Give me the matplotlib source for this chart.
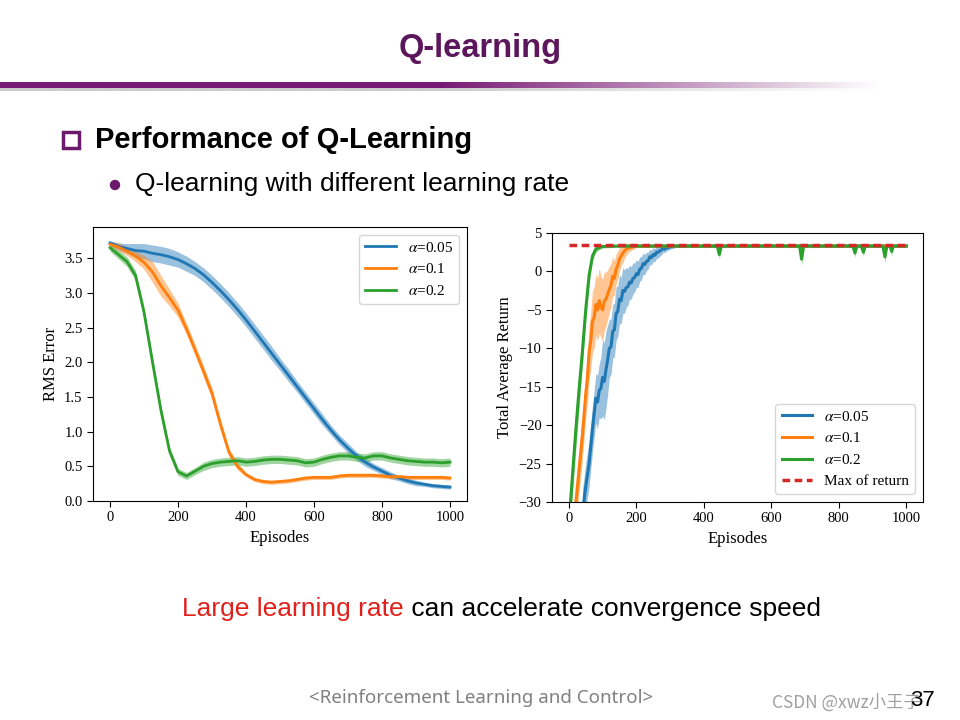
import matplotlib.pyplot as plt
import numpy as np
from matplotlib.patches import Rectangle, Circle

# --- données ---
labels = [r'$\alpha$=0.05', r'$\alpha$=0.1', r'$\alpha$=0.2']
couleurs = ['#1f77b4', '#ff7f0e', '#2ca02c']

# RMS error (épisodes tous les 25)
ep_rms = list(range(0, 1001, 25))
rms_005 = [3.72, 3.67, 3.64, 3.61, 3.60, 3.57, 3.55, 3.52, 3.48, 3.42, 3.35, 3.26, 3.15, 3.03,
           2.90, 2.76, 2.61, 2.45, 2.29, 2.13, 1.97, 1.81, 1.65, 1.49, 1.33, 1.17, 1.02, 0.88,
           0.76, 0.65, 0.56, 0.49, 0.43, 0.37, 0.33, 0.29, 0.26, 0.24, 0.22, 0.21, 0.20]
rms_01 = [3.70, 3.66, 3.60, 3.53, 3.44, 3.30, 3.10, 2.93, 2.75, 2.48, 2.18, 1.87, 1.55, 1.10,
          0.70, 0.50, 0.38, 0.31, 0.28, 0.27, 0.28, 0.29, 0.31, 0.33, 0.34, 0.34, 0.34, 0.36,
          0.37, 0.37, 0.37, 0.37, 0.36, 0.35, 0.35, 0.34, 0.34, 0.34, 0.34, 0.34, 0.33]
rms_02 = [3.65, 3.55, 3.45, 3.25, 2.72, 2.00, 1.30, 0.72, 0.42, 0.36, 0.43, 0.50, 0.54, 0.56,
          0.57, 0.58, 0.56, 0.57, 0.59, 0.60, 0.60, 0.59, 0.58, 0.55, 0.56, 0.60, 0.63, 0.65,
          0.65, 0.63, 0.62, 0.65, 0.65, 0.62, 0.60, 0.58, 0.57, 0.56, 0.56, 0.55, 0.56]
rms_sd_005 = [0.03, 0.05, 0.07, 0.10, 0.11, 0.12, 0.12, 0.12, 0.11, 0.11, 0.10, 0.10, 0.10, 0.10,
              0.10, 0.10, 0.10, 0.10, 0.10, 0.10, 0.09, 0.09, 0.08, 0.08, 0.08, 0.08, 0.07, 0.07,
              0.07, 0.06, 0.06, 0.05, 0.05, 0.05, 0.04, 0.04, 0.04, 0.03, 0.03, 0.03, 0.03]
rms_sd_01 = [0.03, 0.06, 0.06, 0.08, 0.10, 0.15, 0.15, 0.12, 0.10, 0.08, 0.08, 0.08, 0.08, 0.08,
             0.06, 0.05, 0.03, 0.03, 0.03, 0.03, 0.03, 0.03, 0.03, 0.03, 0.03, 0.03, 0.03, 0.03,
             0.03, 0.03, 0.03, 0.03, 0.03, 0.03, 0.03, 0.03, 0.03, 0.03, 0.03, 0.03, 0.03]
rms_sd_02 = [0.05, 0.06, 0.07, 0.07, 0.07, 0.07, 0.07, 0.06, 0.05, 0.05, 0.05, 0.06, 0.06, 0.06,
             0.06, 0.06, 0.06, 0.06, 0.06, 0.06, 0.06, 0.06, 0.06, 0.06, 0.06, 0.06, 0.06, 0.06,
             0.06, 0.06, 0.06, 0.06, 0.06, 0.06, 0.06, 0.06, 0.06, 0.06, 0.06, 0.06, 0.06]

# Total average return
ep_b = [40, 50, 60, 70,
        80, 85, 90, 95, 100, 105, 110, 115, 120, 125, 130, 135, 140, 145, 150, 155,
        160, 165, 170, 175, 180, 185, 190, 195, 200, 205, 210, 215, 220, 225, 230, 235,
        240, 245, 250, 255, 260, 265, 270, 275, 280, 285, 290, 295, 300,
        320, 400, 1000]
ret_005 = [-31.5, -28.0, -25.0, -20.5,
           -16.5, -17.0, -15.5, -15.2, -13.8, -14.3, -12.8, -11.5, -10.0, -9.8, -7.8, -7.6,
           -5.5, -5.2, -3.6, -3.8, -2.5, -2.6, -2.1, -2.0, -1.4, -1.5, -0.9, -0.8, -0.3, -0.4,
           0.3, 0.4, 1.0, 0.9, 1.3, 1.4, 1.9, 1.8, 2.2, 2.1, 2.5, 2.5, 2.7, 2.8, 3.0, 2.9,
           3.1, 3.1, 3.2,
           3.3, 3.3, 3.3]
ret_sd_005 = [3.0, 3.0, 3.0, 3.0,
              3.2, 3.5, 3.5, 4.0, 5.0, 5.0, 5.0, 4.5, 3.8, 3.6, 3.5, 3.5, 3.5, 3.3, 3.2, 3.0,
              3.0, 2.8, 2.6, 2.4, 2.2, 2.1, 2.0, 1.9, 1.8, 1.7, 1.6, 1.5, 1.4, 1.3, 1.2, 1.1,
              1.0, 0.95, 0.9, 0.85, 0.8, 0.75, 0.7, 0.6, 0.5, 0.45, 0.4, 0.35, 0.3,
              0.15, 0.1, 0.1]
ep_o = [10, 20, 30, 40, 50, 55, 60, 65, 70, 75, 80, 85, 90, 95, 100, 105, 110, 115, 120, 125,
        130, 135, 140, 145, 150, 155, 160, 170, 180, 200, 400, 1000]
ret_01 = [-35.0, -30.5, -26.0, -21.5, -16.0, -14.0, -10.5, -9.0, -6.5, -6.0, -4.3, -5.0, -3.8,
          -4.6, -5.0, -3.9, -3.6, -3.0, -2.3, -1.8, -0.6, -0.9, 0.3, 0.8, 1.6, 2.0, 2.4, 2.9,
          3.1, 3.3, 3.3, 3.3]
ret_sd_01 = [3.0, 3.0, 3.0, 3.0, 3.0, 3.2, 3.5, 3.8, 4.0, 4.0, 4.0, 4.0, 4.2, 4.0, 4.0, 3.8,
             3.5, 3.2, 3.0, 2.8, 2.5, 2.3, 2.0, 1.8, 1.5, 1.3, 1.2, 0.8, 0.5, 0.2, 0.1, 0.1]
ep_g = [0, 10, 20, 30, 40, 50, 60, 70, 80, 90, 100, 150, 440, 446, 452, 684, 690, 696, 842,
        848, 854, 867, 873, 879, 931, 937, 943, 952, 957, 962, 1000]
ret_02 = [-33.0, -27.0, -21.0, -15.5, -10.5, -5.0, -0.5, 2.0, 2.9, 3.1, 3.25, 3.3, 3.3, 2.2, 3.3,
          3.3, 1.6, 3.3, 3.3, 2.4, 3.3, 3.3, 2.5, 3.3, 3.3, 1.9, 3.3, 3.3, 2.6, 3.3, 3.3]
ret_sd_02 = [2.5, 2.5, 2.5, 2.5, 2.0, 1.5, 1.0, 0.6, 0.4, 0.3, 0.2, 0.15, 0.15, 0.6, 0.15, 0.15,
             0.9, 0.15, 0.15, 0.6, 0.15, 0.15, 0.6, 0.15, 0.15, 0.8, 0.15, 0.15, 0.6, 0.15, 0.15]
ep_max = [0, 1000]
ret_max = [3.4, 3.4]

plt.rcParams['mathtext.fontset'] = 'stix'

fig = plt.figure(figsize=(9.6, 7.2), dpi=100)

# fond de la diapo (coordonnées en pixels)
bg = fig.add_axes([0, 0, 1, 1])
bg.axis('off')

violet = '#6b1a6b'
bg.text(480, 48, 'Q-learning', ha='center', va='center', fontsize=23.5, fontweight='bold',
        color='#5c165c', family='Liberation Sans')

# barre en dégradé
grad = np.ones((1, 256, 4))
t = np.linspace(0, 1, 256)
fade = np.clip((t - 0.5) / 0.5, 0, 1)
c0 = np.array([0.47, 0.10, 0.45])
for k in range(3):
    grad[0, :, k] = c0[k] + (1 - c0[k]) * fade
bg.imshow(grad, extent=(0, 880, 88, 82), aspect='auto', interpolation='bilinear')
shadow = np.ones((1, 256, 4))
shadow[0, :, :3] = (0.80 + 0.2 * fade)[:, None]
bg.imshow(shadow, extent=(0, 880, 91, 88), aspect='auto', interpolation='bilinear')
bg.set_xlim(0, 960)
bg.set_ylim(720, 0)

bg.add_patch(Rectangle((63, 132), 16, 16, fill=False, edgecolor=violet, linewidth=2.5))
bg.text(95, 140, 'Performance of Q-Learning', ha='left', va='center', fontsize=21,
        fontweight='bold', family='Liberation Sans')
bg.add_patch(Circle((115, 185), 4.5, color=violet))
bg.text(135, 184, 'Q-learning with different learning rate', ha='left', va='center',
        fontsize=19, family='Liberation Sans')

rouge = bg.text(182, 609, 'Large learning rate', ha='left', va='center', fontsize=19,
                color='#e0201b', family='Liberation Sans')
bg.annotate(' can accelerate convergence speed', xy=(1, 0), xycoords=rouge, ha='left',
            va='bottom', fontsize=19, family='Liberation Sans')

bg.text(481, 698, '<Reinforcement Learning and Control>', ha='center', va='center',
        fontsize=13.5, color='#808080', family='Noto Sans')
bg.text(772, 703, 'CSDN @xwz小王子', ha='left', va='center', fontsize=12.5, color='#a0a0a0',
        family=['Noto Sans CJK SC', 'DejaVu Sans'])
bg.text(922, 700, '37', ha='center', va='center', fontsize=16, color='black',
        family='Liberation Sans')

serif = 'Liberation Serif'

# graphe de gauche : RMS Error
ax1 = fig.add_axes([0.0969, 0.3042, 0.3896, 0.3806])
for y, sd, c, lab in zip([rms_005, rms_01, rms_02], [rms_sd_005, rms_sd_01, rms_sd_02],
                         couleurs, labels):
    y = np.array(y)
    sd = np.array(sd)
    ax1.fill_between(ep_rms, y - sd, y + sd, color=c, alpha=0.45, linewidth=0)
    ax1.plot(ep_rms, y, color=c, linewidth=2, label=lab)
ax1.set_xlim(-50, 1050)
ax1.set_ylim(0, 3.95)
ax1.set_yticks(np.arange(0, 3.51, 0.5))
ax1.set_xticks(range(0, 1001, 200))
ax1.set_xlabel('Episodes', fontsize=12, family=serif)
ax1.set_ylabel('RMS Error', fontsize=12, family=serif)
ax1.legend(loc='upper right', prop={'family': serif, 'size': 11})

# graphe de droite : Total Average Return
ax2 = fig.add_axes([0.575, 0.3028, 0.3865, 0.3736])
for x, y, sd, c, lab in zip([ep_b, ep_o, ep_g], [ret_005, ret_01, ret_02],
                            [ret_sd_005, ret_sd_01, ret_sd_02], couleurs, labels):
    y = np.array(y)
    sd = np.array(sd)
    ax2.fill_between(x, y - sd, y + sd, color=c, alpha=0.45, linewidth=0)
    ax2.plot(x, y, color=c, linewidth=2.2, label=lab)
ax2.plot(ep_max, ret_max, color='#d62728', linewidth=2.5, dashes=(2.2, 1.3),
         label='Max of return')
ax2.set_xlim(-50, 1050)
ax2.set_ylim(-30, 5)
ax2.set_yticks(range(-30, 6, 5))
ax2.set_xticks(range(0, 1001, 200))
ax2.set_xlabel('Episodes', fontsize=12, family=serif)
ax2.set_ylabel('Total Average Return', fontsize=12, family=serif)
ax2.legend(loc='lower right', prop={'family': serif, 'size': 11})

for ax in (ax1, ax2):
    ax.tick_params(labelsize=10.5, length=4)
    for lab in ax.get_xticklabels() + ax.get_yticklabels():
        lab.set_family(serif)

plt.savefig('out.png', dpi=100)
